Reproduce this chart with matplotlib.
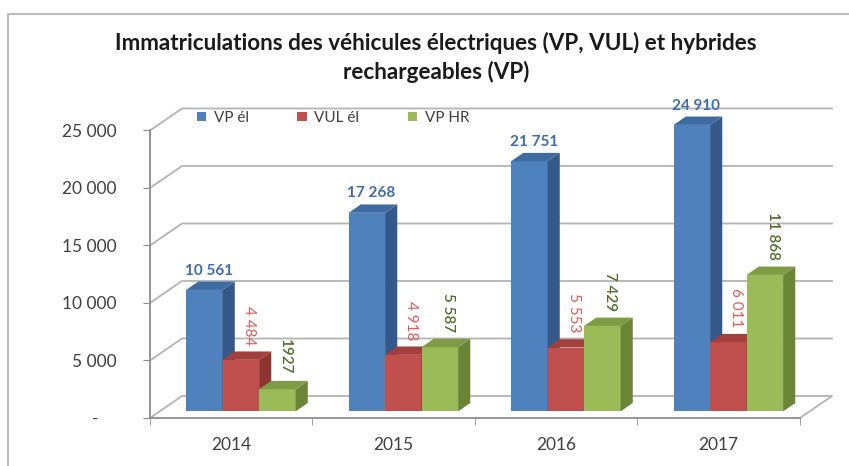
import matplotlib
matplotlib.use("Agg")
import matplotlib.pyplot as plt
from matplotlib.patches import Polygon, Patch
from matplotlib.lines import Line2D

years = ["2014", "2015", "2016", "2017"]
vp_el = [10561, 17268, 21751, 24910]
vul_el = [4484, 4918, 5553, 6011]
vp_hr = [1927, 5587, 7429, 11868]
vp_el_labels = ["10 561", "17 268", "21 751", "24 910"]
vul_el_labels = ["4 484", "4 918", "5 553", "6 011"]
vp_hr_labels = ["1927", "5 587", "7 429", "11 868"]
series_names = ["VP él", "VUL él", "VP HR"]
yticks = [0, 5000, 10000, 15000, 20000, 25000]
ytick_labels = ["-    ", "5 000", "10 000", "15 000", "20 000", "25 000"]

title1 = "Immatriculations des véhicules électriques (VP, VUL) et hybrides"
title2 = "rechargeables (VP)"

# front / side / top face colours for each series
front = ["#4f81bd", "#c0504d", "#9bbb59"]
side = ["#35588a", "#8e3532", "#6b8537"]
top = ["#3f6aa2", "#a33f3c", "#7f9c45"]
label_col = ["#3d6db0", "#e05a58", "#4f6e2a"]

# depth of the 3d box, in data units
DX = 0.197
DY = 1913
D0 = 0.30
D1 = 0.68
W = 0.2246

plt.rcParams["font.family"] = ["Lato", "DejaVu Sans"]
TXT = "#404040"
GRID = "#b4b4b4"


def draw_bar(ax, x, v, k, z):
    x0 = x + D0 * DX
    y0 = D0 * DY
    ddx = (D1 - D0) * DX
    ddy = (D1 - D0) * DY
    ax.bar(x0, v, W, bottom=y0, align="edge", color=front[k], zorder=z, linewidth=0)
    ax.add_patch(Polygon([(x0 + W, y0), (x0 + W + ddx, y0 + ddy),
                          (x0 + W + ddx, y0 + ddy + v), (x0 + W, y0 + v)],
                         closed=True, fc=side[k], ec="none", zorder=z))
    ax.add_patch(Polygon([(x0, y0 + v), (x0 + W, y0 + v),
                          (x0 + W + ddx, y0 + v + ddy), (x0 + ddx, y0 + v + ddy)],
                         closed=True, fc=top[k], ec="none", zorder=z))
    return x0 + W / 2 + ddx / 2, y0 + v + ddy


def plot_chart():
    fig = plt.figure(figsize=(8.49, 4.66), dpi=100)
    ax = fig.add_axes([150 / 849, 48 / 466, 682 / 849, 318 / 466])
    ax.set_xlim(-0.5, 3.5 + DX)
    ax.set_ylim(0, 27650)

    # walls and floor
    for v in yticks[1:]:
        ax.plot([-0.5, -0.5 + DX, 3.5 + DX], [v, v + DY, v + DY],
                color=GRID, lw=1.3, zorder=1, clip_on=False)
    ax.plot([-0.5, -0.5 + DX, 3.5 + DX, 3.5], [0, DY, DY, 0],
            color=GRID, lw=1.3, zorder=1, clip_on=False)

    data = [vp_el, vul_el, vp_hr]
    labels = [vp_el_labels, vul_el_labels, vp_hr_labels]
    for i in range(len(years)):
        for k in range(3):
            x = i + (k - 1.5) * W
            cx, ty = draw_bar(ax, x, data[k][i], k, 3 + i * 3 + k)
            if k == 0:
                ax.text(cx - 0.01, ty + 350, labels[k][i], ha="center", va="bottom",
                        color=label_col[k], fontsize=11, fontweight="bold", zorder=20)
            else:
                ax.text(cx + 0.01, ty + 550, labels[k][i], ha="center", va="bottom",
                        rotation=-90, color=label_col[k], fontsize=11,
                        fontweight="normal" if k == 1 else "semibold", zorder=20)

    for s in ["top", "right"]:
        ax.spines[s].set_visible(False)
    ax.spines["left"].set_bounds(0, 25000)
    ax.spines["bottom"].set_bounds(-0.5, 3.5)
    for s in ["left", "bottom"]:
        ax.spines[s].set_color("#8c8c8c")
        ax.spines[s].set_linewidth(1.3)
        ax.spines[s].set_zorder(2)

    ax.set_yticks(yticks)
    ax.set_yticklabels(ytick_labels)
    ax.tick_params(axis="y", length=5, color="#8c8c8c", pad=19, labelsize=12.5, labelcolor=TXT)
    ax.set_xticks(range(len(years)))
    ax.set_xticklabels(years)
    ax.tick_params(axis="x", length=0, pad=14, labelsize=12.5, labelcolor=TXT)
    ax.set_xticks([-0.5, 0.5, 1.5, 2.5, 3.5], minor=True)
    ax.tick_params(axis="x", which="minor", length=5, color="#8c8c8c")
    ax.patch.set_visible(False)

    handles = [Patch(facecolor=c) for c in front]
    fig.legend(handles, series_names, loc="center left", bbox_to_anchor=(183 / 849, 1 - 118 / 466),
               ncol=3, frameon=False, fontsize=11, handlelength=0.6, handleheight=0.6,
               handletextpad=0.5, columnspacing=3.2, labelcolor=TXT)

    fig.text(436 / 849, 1 - 43 / 466, title1, ha="center", va="center",
             fontsize=16.2, fontweight="bold", color="#1a1a1a")
    fig.text(436 / 849, 1 - 72 / 466, title2, ha="center", va="center",
             fontsize=16.2, fontweight="bold", color="#1a1a1a")

    # chart frame (left and top edge)
    fig.add_artist(Line2D([8 / 849, 8 / 849, 1], [0, 1 - 14 / 466, 1 - 14 / 466],
                          color="#bdbdbd", lw=1.5))

    fig.savefig("out.png", dpi=100)


if __name__ == "__main__":
    plot_chart()
